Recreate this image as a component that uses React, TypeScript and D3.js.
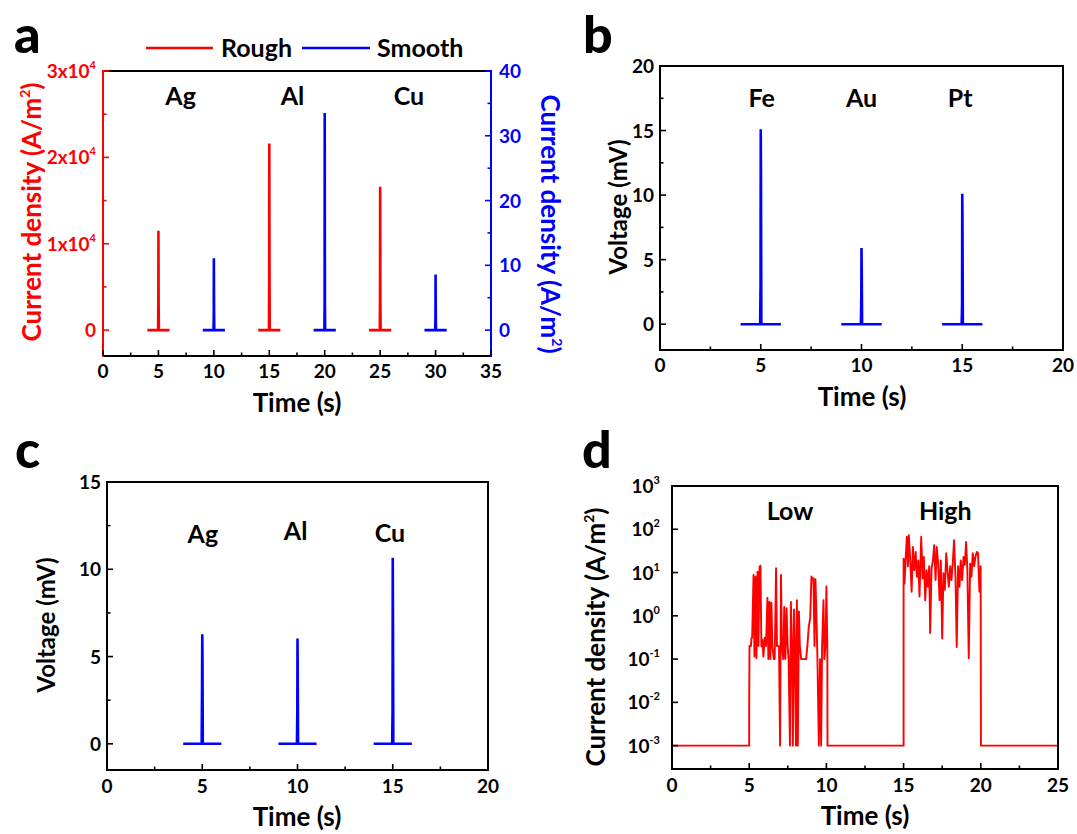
import React from 'react';
import * as d3 from 'd3';

const FONT = "Lato, 'Open Sans', sans-serif";
const RED = '#ff0000';
const BLUE = '#0000ff';

// ---------- Panel a data ----------
const aRoughT = [4, 4.97, 4.99, 5.0, 5.02, 5.04, 6, 14, 14.97, 14.99, 15.0, 15.02, 15.04, 16, 24, 24.97, 24.99, 25.0, 25.02, 25.04, 26];
const aRoughV = [0, 0, 3000, 11500, 3000, 0, 0, 0, 0, 7000, 21600, 6500, 0, 0, 0, 0, 4500, 16600, 4000, 0, 0];
const aSmoothT = [9, 9.97, 9.99, 10.0, 10.02, 10.04, 11, 19, 19.97, 19.99, 20.0, 20.02, 20.04, 21, 29, 29.97, 29.99, 30.0, 30.02, 30.04, 31];
const aSmoothV = [0, 0, 2, 11.1, 3, 0, 0, 0, 0, 3.9, 33.5, 4, 0, 0, 0, 0, 2, 8.6, 2, 0, 0];
const aLabels = ['Ag', 'Al', 'Cu'];
const aLabelT = [7.0, 17.1, 27.6];
const aXTicks = [0, 5, 10, 15, 20, 25, 30, 35];
const aYLTicks = [0, 10000, 20000, 30000];
const aYLTickText = ['0', '1x10', '2x10', '3x10'];
const aYLTickSup = ['', '4', '4', '4'];
const aYRTicks = [0, 10, 20, 30, 40];

// ---------- Panel b data ----------
const bT = [4, 4.97, 4.99, 5.0, 5.01, 5.03, 6, 9, 9.97, 9.99, 10.0, 10.01, 10.03, 11, 14, 14.97, 14.99, 15.0, 15.01, 15.03, 16];
const bV = [0, 0, 3, 15.1, 12, 0, 0, 0, 0, 2.2, 5.9, 4.5, 0, 0, 0, 0, 1.3, 10.1, 8.3, 0, 0];
const bLabels = ['Fe', 'Au', 'Pt'];
const bLabelT = [5.05, 10.0, 14.9];
const bXTicks = [0, 5, 10, 15, 20];
const bYTicks = [0, 5, 10, 15, 20];

// ---------- Panel c data ----------
const cT = [4, 4.97, 4.99, 5.0, 5.01, 5.03, 6, 9, 9.97, 9.99, 10.0, 10.01, 10.03, 11, 14, 14.97, 14.99, 15.0, 15.01, 15.03, 16];
const cV = [0, 0, 3.5, 6.27, 5.3, 0, 0, 0, 0, 1.8, 6.03, 4.5, 0, 0, 0, 0, 1.9, 10.66, 7.7, 0, 0];
const cLabels = ['Ag', 'Al', 'Cu'];
const cLabelT = [5.03, 9.9, 14.85];
const cLabelDy = [0, -3, -1];
const cXTicks = [0, 5, 10, 15, 20];
const cYTicks = [0, 5, 10, 15];

// ---------- Panel d data ----------
const dT = [
  0, 5.0, 5.0, 5.02, 5.11, 5.15, 5.19, 5.28, 5.34, 5.41, 5.47, 5.54, 5.6, 5.67, 5.73, 5.79, 5.86, 5.92,
  6.01, 6.09, 6.18, 6.24, 6.31, 6.37, 6.44, 6.5, 6.59, 6.65, 6.74, 6.8, 6.87, 6.93, 7.0, 7.06, 7.12,
  7.21, 7.27, 7.34, 7.42, 7.49, 7.55, 7.64, 7.7, 7.77, 7.83, 7.9, 7.96, 8.03, 8.09, 8.15, 8.22, 8.28,
  8.37, 8.45, 8.54, 8.63, 8.69, 8.78, 8.86, 8.95, 9.03, 9.1, 9.16, 9.23, 9.29, 9.36, 9.42, 9.51, 9.59,
  9.66, 9.72, 9.81, 9.87, 9.94, 10.0, 10.06, 10.07,
  15.0, 15.0, 15.06, 15.13, 15.21, 15.28, 15.34, 15.43, 15.52, 15.6, 15.69, 15.78, 15.86, 15.95,
  16.03, 16.14, 16.23, 16.31, 16.4, 16.49, 16.57, 16.66, 16.72, 16.81, 16.9, 16.98, 17.07, 17.15,
  17.24, 17.33, 17.41, 17.5, 17.58, 17.67, 17.76, 17.84, 17.93, 18.02, 18.1, 18.19, 18.27, 18.36,
  18.44, 18.53, 18.62, 18.7, 18.79, 18.88, 18.96, 19.05, 19.13, 19.22, 19.31, 19.39, 19.48, 19.57,
  19.65, 19.74, 19.82, 19.91, 19.99, 20.01, 25,
];
const dV = [
  0.001, 0.001, 0.01, 0.2, 0.2, 0.31, 0.31, 8.8, 0.115, 8.1, 0.105, 10.5, 0.2, 13.7, 14.3, 0.196, 0.28, 0.115,
  0.31, 0.2, 2.6, 0.1, 2.1, 0.1, 2.0, 0.2, 0.1, 0.1, 12.6, 0.2, 0.2, 0.196, 0.001, 8.8, 0.2,
  0.1, 1.6, 0.1, 1.5, 0.2, 0.1, 0.001, 2.1, 0.196, 0.001, 1.4, 0.2, 0.001, 2.3, 0.001, 1.26, 0.2,
  0.1, 0.1, 0.1, 0.1, 0.1, 0.23, 0.57, 0.88, 8.1, 6.8, 7.4, 0.2, 7.0, 0.81, 0.1, 0.001, 0.1,
  0.001, 0.196, 2.3, 0.1, 0.2, 4.75, 0.2, 0.001,
  0.001, 21, 5.6, 20, 67, 14, 73, 19, 3.6, 39, 11.4, 30, 8.0, 19,
  2.8, 67, 7.3, 23, 2.3, 11.4, 4.7, 14, 0.4, 12.5, 19, 43, 6.7, 39,
  16, 2.3, 19, 0.3, 9.6, 4.0, 28, 11.4, 4.7, 14, 6.7, 18, 56, 8.0,
  0.19, 14, 4.7, 19, 6.7, 23, 15, 51, 11.4, 0.105, 16, 8.0, 28, 14,
  23, 30, 28, 3.6, 14, 0.001, 0.001,
];
const dLabels = ['Low', 'High'];
const dLabelT = [7.64, 17.7];
const dXTicks = [0, 5, 10, 15, 20, 25];
const dYExp = [-3, -2, -1, 0, 1, 2, 3];

// ---------- helpers ----------
const TICK = 6;
const MINOR = 3.5;
const TF = 19; // tick font size

function midTicks(ticks: number[]) {
  const out: number[] = [];
  for (let i = 0; i < ticks.length - 1; i++) out.push((ticks[i] + ticks[i + 1]) / 2);
  return out;
}

function XAxis({ x, yb, ticks, labelY, minor = true }: any) {
  return (
    <g>
      {ticks.map((t: number) => (
        <line key={'M' + t} x1={x(t)} x2={x(t)} y1={yb} y2={yb - TICK} stroke="#000" strokeWidth={1.6} />
      ))}
      {minor && midTicks(ticks).map((t: number) => (
        <line key={'m' + t} x1={x(t)} x2={x(t)} y1={yb} y2={yb - MINOR} stroke="#000" strokeWidth={1.6} />
      ))}
      {ticks.map((t: number) => (
        <text key={'L' + t} x={x(t)} y={labelY} textAnchor="middle" fontSize={TF} fontWeight="bold" fontFamily={FONT} fill="#000">
          {t}
        </text>
      ))}
    </g>
  );
}

function YTicks({ y, xa, ticks, dir, color, minor = true }: any) {
  return (
    <g>
      {ticks.map((t: number) => (
        <line key={'M' + t} x1={xa} x2={xa + dir * TICK} y1={y(t)} y2={y(t)} stroke={color} strokeWidth={1.6} />
      ))}
      {minor && midTicks(ticks).map((t: number) => (
        <line key={'m' + t} x1={xa} x2={xa + dir * MINOR} y1={y(t)} y2={y(t)} stroke={color} strokeWidth={1.6} />
      ))}
    </g>
  );
}

function Frame({ x0, x1, y0, y1, left = '#000', right = '#000' }: any) {
  return (
    <g strokeWidth={2} strokeLinecap="square">
      <line x1={x0} x2={x1} y1={y0} y2={y0} stroke="#000" />
      <line x1={x0} x2={x1} y1={y1} y2={y1} stroke="#000" />
      <line x1={x0} x2={x0} y1={y0} y2={y1} stroke={left} />
      <line x1={x1} x2={x1} y1={y0} y2={y1} stroke={right} />
    </g>
  );
}

function series(T: number[], V: number[]): [number, number][] {
  return T.map((t, i) => [t, V[i]]);
}

const txt = (props: any, children: any) => (
  <text fontFamily={FONT} fontWeight="bold" {...props}>{children}</text>
);

const CurrentDensity = ({ transform, fill, size }: any) => (
  <text transform={transform} textAnchor="middle" fontSize={size} fontWeight="bold" fontFamily={FONT} fill={fill}>
    Current density (A/m<tspan dy={-11} fontSize={14}>2</tspan><tspan dy={11}>)</tspan>
  </text>
);

export default function App() {
  // Panel a
  const ax = d3.scaleLinear().domain([0, 35]).range([103, 491]);
  const ayL = d3.scaleLinear().domain([-3000, 30000]).range([356, 71]);
  const ayR = d3.scaleLinear().domain([-4, 40]).range([356, 71]);
  const aLineL = d3.line<[number, number]>().x(d => ax(d[0])).y(d => ayL(d[1]));
  const aLineR = d3.line<[number, number]>().x(d => ax(d[0])).y(d => ayR(d[1]));
  const roughSegs = [0, 7, 14].map(s => series(aRoughT.slice(s, s + 7), aRoughV.slice(s, s + 7)));
  const smoothSegs = [0, 7, 14].map(s => series(aSmoothT.slice(s, s + 7), aSmoothV.slice(s, s + 7)));

  // Panel b
  const bx = d3.scaleLinear().domain([0, 20]).range([660, 1063]);
  const by = d3.scaleLinear().domain([-2, 20]).range([350, 66]);
  const bLine = d3.line<[number, number]>().x(d => bx(d[0])).y(d => by(d[1]));
  const bSegs = [0, 7, 14].map(s => series(bT.slice(s, s + 7), bV.slice(s, s + 7)));

  // Panel c
  const cx = d3.scaleLinear().domain([0, 20]).range([107, 488]);
  const cy = d3.scaleLinear().domain([-1.5, 15]).range([770, 482]);
  const cLine = d3.line<[number, number]>().x(d => cx(d[0])).y(d => cy(d[1]));
  const cSegs = [0, 7, 14].map(s => series(cT.slice(s, s + 7), cV.slice(s, s + 7)));

  // Panel d
  const dx = d3.scaleLinear().domain([0, 25]).range([672, 1058]);
  const dy = d3.scaleLog().domain([Math.pow(10, -3.54), 1000]).range([769, 486]);
  const dLine = d3.line<[number, number]>().x(d => dx(d[0])).y(d => dy(d[1]));

  const SW = 2.6;

  return (
    <svg width={1077} height={834} viewBox="0 0 1077 834" style={{ position: 'absolute', left: 0, top: 0, background: '#fff' }}>
      <rect x={0} y={0} width={1077} height={834} fill="#fff" />

      {/* ================= Panel a ================= */}
      {txt({ x: 14, y: 53, fontSize: 52, fontWeight: 900 }, 'a')}
      <line x1={146} x2={213} y1={48} y2={48} stroke={RED} strokeWidth={2.5} />
      {txt({ x: 221, y: 57, fontSize: 25 }, 'Rough')}
      <line x1={302} x2={370} y1={48} y2={48} stroke={BLUE} strokeWidth={2.5} />
      {txt({ x: 377, y: 57, fontSize: 25 }, 'Smooth')}
      {roughSegs.map((s, i) => <path key={'r' + i} d={aLineL(s) || ''} fill="none" stroke={RED} strokeWidth={SW} />)}
      {smoothSegs.map((s, i) => <path key={'s' + i} d={aLineR(s) || ''} fill="none" stroke={BLUE} strokeWidth={SW} />)}
      <Frame x0={103} x1={491} y0={71} y1={356} left={RED} right={BLUE} />
      <XAxis x={ax} yb={356} ticks={aXTicks} labelY={378} />
      <YTicks y={ayL} xa={103} ticks={aYLTicks} dir={1} color={RED} />
      <YTicks y={ayR} xa={491} ticks={aYRTicks} dir={-1} color={BLUE} />
      {aYLTicks.map((t, i) => (
        <text key={'al' + t} x={96} y={ayL(t) + 7} textAnchor="end" fontSize={TF} fontWeight="bold" fontFamily={FONT} fill={RED}>
          {aYLTickText[i]}
          {aYLTickSup[i] && <tspan dy={-9} fontSize={11}>{aYLTickSup[i]}</tspan>}
        </text>
      ))}
      {aYRTicks.map(t => (
        <text key={'ar' + t} x={499} y={ayR(t) + 7} textAnchor="start" fontSize={TF} fontWeight="bold" fontFamily={FONT} fill={BLUE}>{t}</text>
      ))}
      {aLabels.map((l, i) => txt({ key: l, x: ax(aLabelT[i]), y: 105, fontSize: 25, textAnchor: 'middle' }, l))}
      <CurrentDensity transform="translate(41,212) rotate(-90)" fill={RED} size={26} />
      <CurrentDensity transform="translate(541,224) rotate(90)" fill={BLUE} size={26} />
      {txt({ x: 297, y: 412, fontSize: 26, textAnchor: 'middle' }, 'Time (s)')}

      {/* ================= Panel b ================= */}
      {txt({ x: 583, y: 53, fontSize: 52, fontWeight: 900 }, 'b')}
      {bSegs.map((s, i) => <path key={'b' + i} d={bLine(s) || ''} fill="none" stroke={BLUE} strokeWidth={SW} />)}
      <Frame x0={660} x1={1063} y0={66} y1={350} />
      <XAxis x={bx} yb={350} ticks={bXTicks} labelY={372} />
      <YTicks y={by} xa={660} ticks={bYTicks} dir={1} color="#000" />
      {bYTicks.map(t => (
        <text key={'bl' + t} x={654} y={by(t) + 7} textAnchor="end" fontSize={TF} fontWeight="bold" fontFamily={FONT}>{t}</text>
      ))}
      {bLabels.map((l, i) => txt({ key: l, x: bx(bLabelT[i]), y: 107, fontSize: 25, textAnchor: 'middle' }, l))}
      {txt({ transform: 'translate(627,207) rotate(-90)', fontSize: 24, textAnchor: 'middle' }, 'Voltage (mV)')}
      {txt({ x: 862, y: 406, fontSize: 26, textAnchor: 'middle' }, 'Time (s)')}

      {/* ================= Panel c ================= */}
      {txt({ x: 15, y: 468, fontSize: 52, fontWeight: 900 }, 'c')}
      {cSegs.map((s, i) => <path key={'c' + i} d={cLine(s) || ''} fill="none" stroke={BLUE} strokeWidth={SW} />)}
      <Frame x0={107} x1={488} y0={482} y1={770} />
      <XAxis x={cx} yb={770} ticks={cXTicks} labelY={793} />
      <YTicks y={cy} xa={107} ticks={cYTicks} dir={1} color="#000" />
      {cYTicks.map(t => (
        <text key={'cl' + t} x={101} y={cy(t) + 7} textAnchor="end" fontSize={TF} fontWeight="bold" fontFamily={FONT}>{t}</text>
      ))}
      {cLabels.map((l, i) => txt({ key: l, x: cx(cLabelT[i]), y: 543 + cLabelDy[i], fontSize: 25, textAnchor: 'middle' }, l))}
      {txt({ transform: 'translate(55,625) rotate(-90)', fontSize: 24, textAnchor: 'middle' }, 'Voltage (mV)')}
      {txt({ x: 297, y: 826, fontSize: 26, textAnchor: 'middle' }, 'Time (s)')}

      {/* ================= Panel d ================= */}
      {txt({ x: 582, y: 468, fontSize: 52, fontWeight: 900 }, 'd')}
      <path d={dLine(series(dT, dV)) || ''} fill="none" stroke={RED} strokeWidth={1.9} strokeLinejoin="round" />
      <Frame x0={672} x1={1058} y0={486} y1={769} />
      <XAxis x={dx} yb={769} ticks={dXTicks} labelY={792} />
      <YTicks y={dy} xa={672} ticks={dYExp.map(e => Math.pow(10, e))} dir={1} color="#000" minor={false} />
      {dYExp.map(e => (
        <text key={'dl' + e} x={660} y={dy(Math.pow(10, e)) + 7} textAnchor="end" fontSize={TF} fontWeight="bold" fontFamily={FONT}>
          10<tspan dy={-9} fontSize={11}>{e}</tspan>
        </text>
      ))}
      {dLabels.map((l, i) => txt({ key: l, x: dx(dLabelT[i]), y: 520, fontSize: 25, textAnchor: 'middle' }, l))}
      <CurrentDensity transform="translate(605,637) rotate(-90)" fill="#000" size={26} />
      {txt({ x: 865, y: 825, fontSize: 26, textAnchor: 'middle' }, 'Time (s)')}
    </svg>
  );
}
